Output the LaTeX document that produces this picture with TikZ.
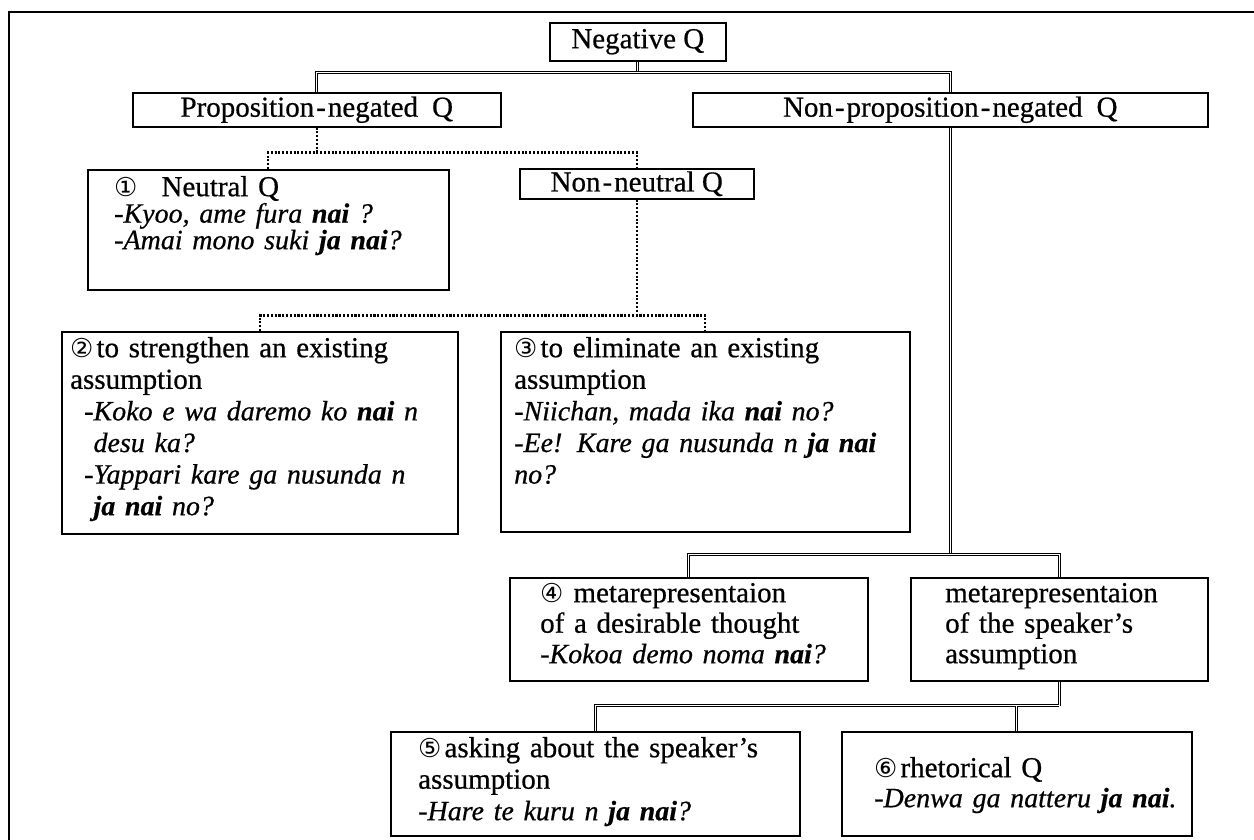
\documentclass[tikz,border=0pt]{standalone}
\usepackage{fontspec}
\setmainfont{Liberation Serif}[FakeBold=0.6]
\newfontfamily\circfont{DejaVu Sans}
\usetikzlibrary{calc}
\newcommand\cnum[1]{{\circfont\fontsize{26}{26}\selectfont #1}}
\newcommand\st{\rule{0pt}{22pt}}
\newcommand\ex[1]{{\fontsize{28}{28}\selectfont\itshape #1}}
\newcommand\hy{\kern2pt-\kern2pt}
\begin{document}
\begin{tikzpicture}[x=1pt,y=-1pt,
  box/.style={draw, line width=1.5pt, inner sep=0pt, anchor=north west, font=\fontsize{29}{31}\selectfont},
  txt/.style={anchor=north west, inner sep=0pt, align=left, text width=480pt, font=\fontsize{29}{#1}\selectfont},
  conn/.style={double, double distance=0.9pt, line width=0.9pt},
  dotline/.style={line width=2.1pt, dash pattern=on 2.1pt off 1.7pt}]
\useasboundingbox (0,0) rectangle (1254,839);
\clip (0,0) rectangle (1254,839);
\draw[line width=1.4pt] (9,12) rectangle (1300,900);

% boxes
\node[box, minimum width=176pt, minimum height=38pt] (neg) at (549,22) {Negative Q};
\node[box, minimum width=368pt, minimum height=34pt] (prop) at (132,92) {Proposition\hy negated\hspace{14pt}Q};
\node[box, minimum width=515pt, minimum height=34pt] (nonprop) at (692,92) {Non\hy proposition\hy negated\hspace{14pt}Q};
\node[box, minimum width=361pt, minimum height=120pt] (neutral) at (87,169) {};
\node[box, minimum width=234pt, minimum height=30pt] (nonneutral) at (519,168) {Non\hy neutral Q};
\node[box, minimum width=396pt, minimum height=202pt] (s2) at (61,331) {};
\node[box, minimum width=409pt, minimum height=200pt] (s3) at (500,331) {};
\node[box, minimum width=358pt, minimum height=103pt] (s4) at (509,577) {};
\node[box, minimum width=297pt, minimum height=103pt] (sm) at (910,577) {};
\node[box, minimum width=409pt, minimum height=104pt] (s5) at (390,731) {};
\node[box, minimum width=350pt, minimum height=104pt] (s6) at (841,731) {};

% texts
\node[txt=26.5pt] (neutral-t) at (114,174) {\st\cnum{①}\hspace{24pt}Neutral Q\\
\ex{-Kyoo, ame fura \textbf{nai} ?}\\
\ex{-Amai mono suki \textbf{ja nai}?}};
\node[txt=31.6pt] (s2-t) at (70,335) {\st\cnum{②}\hspace{3pt}to strengthen an existing\\
assumption\\
\hspace*{14pt}\ex{-Koko e wa daremo ko \textbf{nai} n}\\
\hspace*{14pt}\ex{\hphantom{-}desu ka?}\\
\hspace*{14pt}\ex{-Yappari kare ga nusunda n}\\
\hspace*{14pt}\ex{\hphantom{-}\textbf{ja nai} no?}};
\node[txt=31.6pt] (s3-t) at (514,335) {\st\cnum{③}\hspace{3pt}to eliminate an existing\\
assumption\\
\ex{-Niichan, mada ika \textbf{nai} no?}\\
\ex{-Ee! Kare ga nusunda n \textbf{ja nai}}\\
\ex{no?}};
\node[txt=30.5pt] (s4-t) at (540,580) {\st\cnum{④}\hspace{10pt}metarepresentaion\\
of a desirable thought\\
\ex{-Kokoa demo noma \textbf{nai}?}};
\node[txt=30.5pt] (sm-t) at (945,580) {\st metarepresentaion\\
of the speaker’s\\
assumption};
\node[txt=31.5pt] (s5-t) at (418,735) {\st\cnum{⑤}\hspace{3pt}asking about the speaker’s\\
assumption\\
\ex{-Hare te kuru n \textbf{ja nai}?}};
\node[txt=30pt] (s6-t) at (874,755) {\st\cnum{⑥}\hspace{3pt}rhetorical Q\\
\ex{-Denwa ga natteru \textbf{ja nai}.}};

% solid connectors
\path (neg.south) ++(0,11) coordinate (j1);
\draw[conn] (neg.south) -- (j1);
\draw[conn] (prop.north) |- (j1) -| (nonprop.north);

\path (nonprop.south) ++(0,427) coordinate (j4);
\draw[conn] (nonprop.south) -- (j4);
\draw[conn] (s4.north) |- (j4) -| (sm.north);

\path (sm.south) ++(0,24) coordinate (j5);
\draw[conn] (sm.south) -- (j5);
\draw[conn] (s5.north) |- (j5);
\draw[conn] (s6.north) -- (s6.north |- j5);

% dotted connectors
\path (prop.south) ++(0,25) coordinate (j2);
\draw[dotline] (prop.south) -- (j2);
\draw[dotline] (neutral.north) |- (j2) -| (nonneutral.north);

\path (nonneutral.south) ++(0,116) coordinate (j3);
\draw[dotline] (nonneutral.south) -- (j3);
\draw[dotline] (s2.north) |- (j3) -| (s3.north);
\end{tikzpicture}
\end{document}
